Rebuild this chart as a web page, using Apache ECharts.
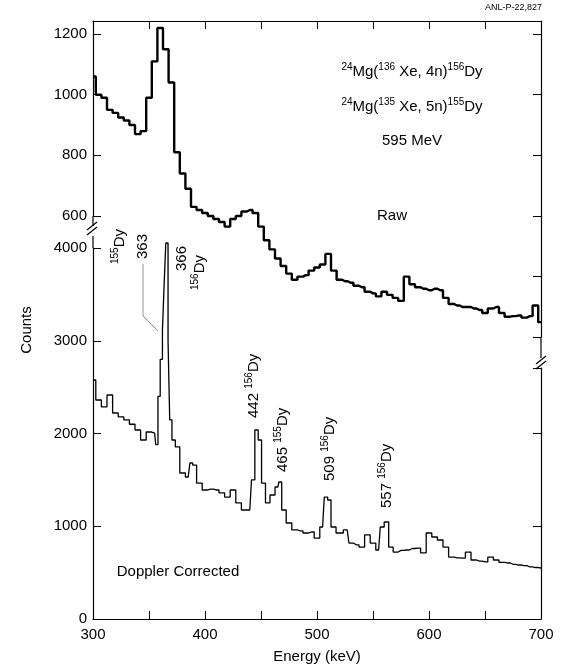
<!DOCTYPE html>
<html>
<head>
<meta charset="utf-8">
<script src="https://cdn.jsdelivr.net/npm/echarts@6/dist/echarts.min.js"></script>
<style>html,body{margin:0;padding:0;background:#fff}#main{width:564px;height:671px}</style>
</head>
<body>
<div id="main"></div>
<script>
// raw spectrum (top panel)
var rawEnergy = [300,305,310,315,320,325,330,335,340,345,350,355,360,365,370,375,380,385,390,395,400,405,410,415,420,425,430,435,440,445,450,455,460,465,470,475,480,485,490,495,500,505,510,515,520,525,530,535,540,545,550,555,560,565,570,575,580,585,590,595,600,605,610,615,620,625,630,635,640,645,650,655,660,665,670,675,680,685,690,695,700];
var rawCounts = [1060,1000,990,950,940,925,915,900,870,880,990,1110,1220,1150,1040,810,740,690,630,620,610,600,590,580,565,590,600,615,620,610,565,520,490,460,435,410,390,400,405,420,430,440,475,420,390,385,380,370,365,350,345,335,350,340,330,320,400,375,365,360,355,360,355,330,310,305,300,300,295,290,280,295,300,280,268,270,272,265,270,305,250];
// doppler corrected spectrum (bottom panel)
var dopEnergy = [300,305,310,315,320,325,330,335,340,345,350,355,357,359,361,363,364,366,368,369,372,375,380,385,388,390,395,400,405,410,415,420,425,430,435,440,443,446,449,452,456,460,465,467,470,475,480,485,490,495,500,505,508,511,514,520,527,530,535,540,545,550,555,558,562,566,570,575,580,585,590,595,600,605,610,615,620,625,630,635,640,645,650,655,660,665,670,675,680,685,690,695,700];
var dopCounts = [2577,2361,2286,2415,2221,2180,2146,2100,2038,1930,2016,2005,1880,2400,2800,3116,3600,4054,3000,2146,1930,1855,1574,1531,1682,1660,1466,1391,1400,1391,1360,1315,1391,1251,1175,1175,1499,2038,1930,1466,1251,1337,1423,1477,1175,1035,960,950,927,938,873,992,1315,1283,992,927,960,819,800,776,906,819,744,992,1046,776,722,740,744,760,765,712,927,884,852,776,668,660,657,722,636,625,615,668,636,610,604,590,582,575,561,555,550];
var energyTicks = [300,400,500,600,700];

function zip(a, b) { var r = []; for (var i = 0; i < a.length; i++) r.push([a[i], b[i]]); return r; }

var font = 'Liberation Sans, Arial, sans-serif';
var blk = '#000';
var tickIn = {show: true, inside: true, length: 8, lineStyle: {color: blk, width: 1}};
var lineOn = {show: true, lineStyle: {color: blk, width: 1.2}};
var lineOff = {show: false};
var lbl = {color: blk, fontSize: 15, fontFamily: font};
var sup = {fontSize: 10, fontFamily: font, color: blk, padding: [0, 0, 9, 0]};
var big = {fontSize: 15, fontFamily: font, color: blk};

var myChart = echarts.init(document.getElementById('main'));

function xAx(grid, pos, labels) {
    return {
        type: 'value', gridIndex: grid, min: 300, max: 700, interval: 50, position: pos,
        axisLine: pos ? lineOn : lineOff, axisTick: pos ? tickIn : {show: false},
        splitLine: {show: false},
        axisLabel: labels ? Object.assign({}, lbl, {margin: 8, formatter: function (v) {
            return energyTicks.indexOf(v) >= 0 ? String(v) : '';
        }}) : {show: false},
        name: labels ? 'Energy (keV)' : '', nameLocation: 'middle', nameGap: 30,
        nameTextStyle: {fontSize: 15, fontFamily: font, color: blk}
    };
}
function yAx(grid, pos, min, max, interval, labels, top) {
    return {
        type: 'value', gridIndex: grid, min: min, max: max, interval: interval, position: pos,
        axisLine: lineOn, axisTick: tickIn, splitLine: {show: false},
        axisLabel: labels ? Object.assign({}, lbl, {margin: 6, formatter: function (v) {
            return v <= top ? String(v) : '';
        }}) : {show: false}
    };
}

// rotated annotation, anchored at its bottom end
function ann(x, y, rich) {
    return {type: 'text', x: x, y: y, rotation: Math.PI / 2,
        style: {text: rich, rich: {s: sup, b: big}, font: '15px ' + font, fill: blk, verticalAlign: 'middle', align: 'left'}};
}
function txt(x, y, t, align) {
    return {type: 'text', x: x, y: y, style: {text: t, rich: {s: sup, b: big}, font: '15px ' + font, fill: blk, align: align || 'center', verticalAlign: 'middle'}};
}
function seg(x1, y1, x2, y2, w) {
    return {type: 'line', shape: {x1: x1, y1: y1, x2: x2, y2: y2}, style: {stroke: blk, lineWidth: w || 1.2}};
}

option = {
    animation: false,
    grid: [
        {left: 93, right: 23, top: 21, height: 195},
        {left: 93, right: 23, top: 216, height: 121},
        {left: 93, right: 23, top: 248, height: 371},
        {left: 93, right: 23, top: 368, height: 251}
    ],
    xAxis: [xAx(0, 'top', false), xAx(1, null, false), xAx(2, 'bottom', true), xAx(3, null, false)],
    yAxis: [
        yAx(0, 'left', 600, 1243, 200, true, 1200),
        yAx(0, 'right', 600, 1243, 200, false),
        yAx(1, 'right', 200, 600, 200, false),
        yAx(2, 'left', 0, 4000, 1000, true, 4000),
        yAx(3, 'right', 0, 2706, 1000, false)
    ],
    series: [
        {type: 'line', xAxisIndex: 0, yAxisIndex: 0, data: zip(rawEnergy, rawCounts), step: 'middle',
            showSymbol: false, clip: false, lineStyle: {color: blk, width: 2.4}},
        {type: 'line', xAxisIndex: 2, yAxisIndex: 3, data: zip(dopEnergy, dopCounts), step: 'middle',
            showSymbol: false, clip: false, lineStyle: {color: blk, width: 1.3}}
    ],
    graphic: [
        {type: 'text', right: 22, top: 3, style: {text: 'ANL-P-22,827', font: '9px ' + font, fill: blk}},
        txt(412, 72, '{s|24}{b|Mg(}{s|136}{b| Xe, 4n)}{s|156}{b|Dy}'),
        txt(412, 107, '{s|24}{b|Mg(}{s|135}{b| Xe, 5n)}{s|155}{b|Dy}'),
        txt(412, 141, '595 MeV'),
        txt(392, 216, 'Raw'),
        txt(178, 572, 'Doppler Corrected'),
        {type: 'text', x: 27, y: 330, rotation: Math.PI / 2,
            style: {text: 'Counts', font: '15px ' + font, fill: blk, align: 'center', verticalAlign: 'middle'}},
        ann(120, 264, '{s|155}{b|Dy}'),
        ann(143, 259, '{b|363}'),
        ann(182, 271, '{b|366}'),
        ann(200, 290, '{s|156}{b|Dy}'),
        ann(254, 418, '{b|442 }{s|156}{b|Dy}'),
        ann(283, 472, '{b|465 }{s|155}{b|Dy}'),
        ann(330, 481, '{b|509 }{s|156}{b|Dy}'),
        ann(387, 508, '{b|557 }{s|156}{b|Dy}'),
        // leader from 363 label to the peak
        {type: 'polyline', shape: {points: [[143, 264], [143, 316], [158, 331]]}, style: {stroke: '#777', lineWidth: 0.8, fill: null}},
        // axis gaps and break marks
        seg(93, 216, 93, 226), seg(93, 236, 93, 248),
        seg(87, 230, 97, 222), seg(87, 235, 97, 227),
        seg(541, 337, 541, 358),
        seg(536, 364, 546, 356), seg(536, 369, 546, 361)
    ]
};

myChart.setOption(option);
</script>
</body>
</html>
